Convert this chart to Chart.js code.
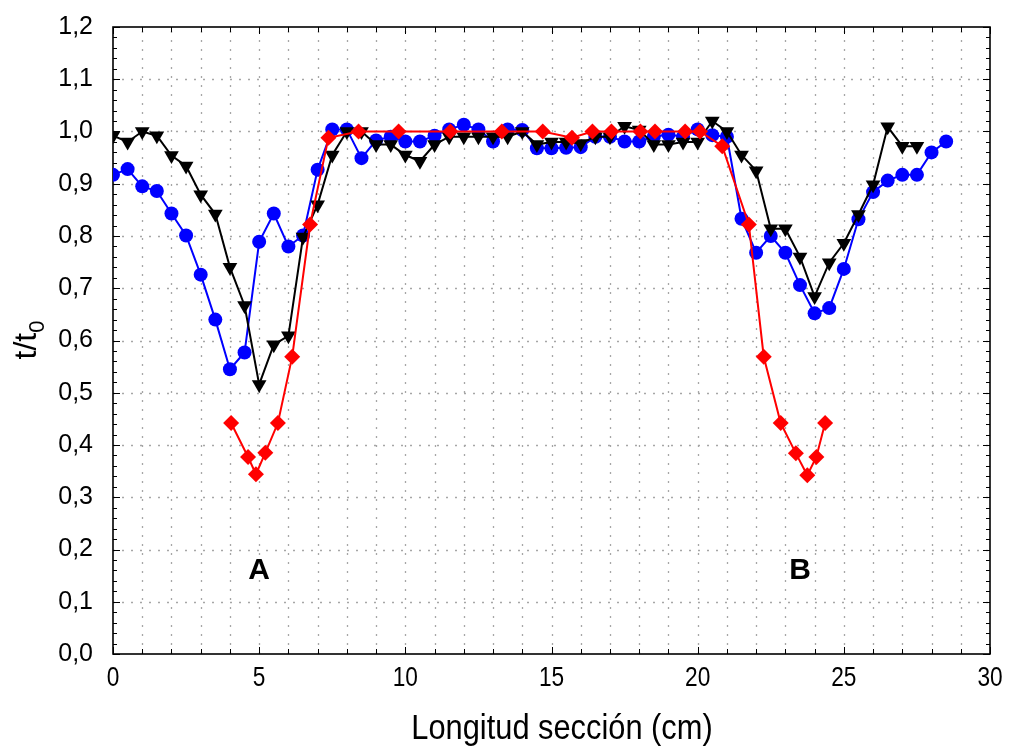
<!DOCTYPE html>
<html>
<head>
<meta charset="utf-8">
<script src="https://cdn.jsdelivr.net/npm/chart.js@4/dist/chart.umd.min.js"></script>
<style>
  html, body { margin: 0; padding: 0; background: #fff; }
  #wrap { width: 1009px; height: 747px; position: relative; }
</style>
</head>
<body>
<div id="wrap"><canvas id="c" width="1009" height="747"></canvas></div>
<script>
// Section length (cm) and relative thickness t/t0 for three profiles
const blackX = [0,0.5,1,1.5,2,2.5,3,3.5,4,4.5,5,5.5,6,6.5,7,7.5,8,8.5,9,9.5,10,10.5,11,11.5,12,12.5,13,13.5,14,14.5,15,15.5,16,16.5,17,17.5,18,18.5,19,19.5,20,20.5,21,21.5,22,22.5,23,23.5,24,24.5,25,25.5,26,26.5,27,27.5];
const blackY = [0.992,0.98,1.0,0.992,0.954,0.934,0.879,0.842,0.74,0.667,0.516,0.592,0.609,0.798,0.86,0.955,1.0,1.0,0.975,0.975,0.955,0.943,0.975,0.99,0.99,0.99,0.99,0.99,1.0,0.975,0.98,0.98,0.977,0.99,0.99,1.01,1.003,0.975,0.975,0.98,0.98,1.02,1.0,0.955,0.925,0.814,0.814,0.76,0.684,0.749,0.786,0.841,0.898,1.009,0.972,0.972];

const blueX = [0,0.5,1,1.5,2,2.5,3,3.5,4,4.5,5,5.5,6,6.5,7,7.5,8,8.5,9,9.5,10,10.5,11,11.5,12,12.5,13,13.5,14,14.5,15,15.5,16,16.5,17,17.5,18,18.5,19,19.5,20,20.5,21,21.5,22,22.5,23,23.5,24,24.5,25,25.5,26,26.5,27,27.5,28,28.5];
const blueY = [0.917,0.928,0.895,0.886,0.843,0.801,0.726,0.640,0.545,0.577,0.789,0.843,0.780,0.801,0.927,1.004,1.004,0.949,0.983,0.99,0.981,0.981,0.992,1.004,1.013,1.004,0.981,1.004,1.003,0.968,0.968,0.969,0.97,0.99,0.99,0.981,0.981,0.99,0.994,0.99,1.004,0.993,0.99,0.833,0.768,0.800,0.768,0.706,0.652,0.662,0.737,0.832,0.884,0.906,0.917,0.917,0.960,0.981];

const redX = [4.04,4.62,4.89,5.21,5.64,6.13,6.74,7.37,8.4,9.77,11.54,13.3,14.7,15.7,16.4,17.05,18.04,18.54,19.57,20.08,20.84,21.75,22.26,22.84,23.36,23.75,24.06,24.36];
const redY = [0.442,0.377,0.344,0.385,0.442,0.569,0.822,0.988,1.0,1.0,1.0,1.0,1.0,0.988,1.0,1.0,1.0,1.0,1.0,1.0,0.972,0.822,0.569,0.442,0.384,0.342,0.377,0.442];

// Labelled x ticks
const xTickValues = [0, 5, 10, 15, 20, 25, 30];

// Zone labels (x, y in data units)
const zoneLabels = ['A', 'B'];
const zoneX = [5.0, 23.5];
const zoneY = [0.16, 0.16];

const xTitle = 'Longitud sección (cm)';
const yTitleMain = 't/t';
const yTitleSub = '0';

const FONT = "'Liberation Sans', Arial, sans-serif";

function pts(xs, ys) { return xs.map((x, i) => ({ x: x, y: ys[i] })); }

// Draws text horizontally condensed around (cx, cy)
function condensedText(ctx, text, cx, cy, factor) {
  ctx.save();
  ctx.translate(cx, cy);
  ctx.scale(factor, 1);
  ctx.fillText(text, 0, 0);
  ctx.restore();
}

// Dotted grid, inward ticks, frame and text annotations
const framePlugin = {
  id: 'frame',
  beforeDatasetsDraw(chart) {
    const { ctx, chartArea: a, scales: { x, y } } = chart;
    ctx.save();
    ctx.strokeStyle = '#a6a6a6';
    ctx.lineWidth = 1.3;
    ctx.setLineDash([2, 7]);
    for (let v = 1; v < 30; v++) {
      const px = Math.round(x.getPixelForValue(v)) + 0.5;
      ctx.beginPath(); ctx.moveTo(px, a.bottom); ctx.lineTo(px, a.top); ctx.stroke();
    }
    for (let k = 1; k < 12; k++) {
      const py = Math.round(y.getPixelForValue(k / 10)) + 0.5;
      ctx.beginPath(); ctx.moveTo(a.left, py); ctx.lineTo(a.right, py); ctx.stroke();
    }
    ctx.setLineDash([]);
    ctx.strokeStyle = '#000';
    ctx.lineWidth = 1;
    // x ticks: every 1 cm, bottom and top, pointing inward
    for (let v = 0; v <= 30; v++) {
      const px = Math.round(x.getPixelForValue(v)) + 0.5;
      const len = v % 5 === 0 ? 7 : 5;
      ctx.beginPath(); ctx.moveTo(px, a.bottom); ctx.lineTo(px, a.bottom - len); ctx.stroke();
      ctx.beginPath(); ctx.moveTo(px, a.top); ctx.lineTo(px, a.top + len); ctx.stroke();
    }
    // y ticks: every 0.02, left and right, pointing inward
    for (let k = 0; k <= 60; k++) {
      const py = Math.round(y.getPixelForValue(k / 50)) + 0.5;
      const len = k % 5 === 0 ? 7 : 4;
      ctx.beginPath(); ctx.moveTo(a.left, py); ctx.lineTo(a.left + len, py); ctx.stroke();
      ctx.beginPath(); ctx.moveTo(a.right, py); ctx.lineTo(a.right - len, py); ctx.stroke();
    }
    // frame
    ctx.lineWidth = 1.6;
    ctx.strokeRect(a.left, a.top, a.right - a.left, a.bottom - a.top);
    ctx.restore();
  },
  afterDraw(chart) {
    const { ctx, chartArea: a, scales: { x, y } } = chart;
    ctx.save();
    ctx.fillStyle = '#000';
    ctx.textAlign = 'center';
    ctx.textBaseline = 'middle';
    // x tick labels
    ctx.font = '27px ' + FONT;
    xTickValues.forEach(v => {
      condensedText(ctx, String(v), x.getPixelForValue(v), a.bottom + 25, 0.84);
    });
    // zone labels
    ctx.font = 'bold 30px ' + FONT;
    zoneLabels.forEach((t, i) => {
      ctx.fillText(t, x.getPixelForValue(zoneX[i]), y.getPixelForValue(zoneY[i]));
    });
    // x title
    ctx.font = '35px ' + FONT;
    ctx.textBaseline = 'alphabetic';
    condensedText(ctx, xTitle, 562, 739, 0.88);
    // y title with subscript
    ctx.translate(36, 340);
    ctx.rotate(-Math.PI / 2);
    ctx.font = '32px ' + FONT;
    const w1 = ctx.measureText(yTitleMain).width;
    ctx.font = '22px ' + FONT;
    const w2 = ctx.measureText(yTitleSub).width;
    const start = -(w1 + w2) / 2;
    ctx.textAlign = 'left';
    ctx.font = '32px ' + FONT;
    ctx.fillText(yTitleMain, start, 0);
    ctx.font = '22px ' + FONT;
    ctx.fillText(yTitleSub, start + w1, 8);
    ctx.restore();
  }
};

new Chart(document.getElementById('c'), {
  type: 'scatter',
  data: {
    datasets: [
      {
        label: 'rojo',
        data: pts(redX, redY),
        showLine: true,
        borderColor: '#ff0000',
        backgroundColor: '#ff0000',
        borderWidth: 2,
        pointStyle: 'rectRot',
        pointRadius: 8,
        pointBorderWidth: 0,
        tension: 0
      },
      {
        label: 'negro',
        data: pts(blackX, blackY),
        showLine: true,
        borderColor: '#000000',
        backgroundColor: '#000000',
        borderWidth: 2,
        pointStyle: 'triangle',
        rotation: 180,
        pointRadius: 8.5,
        pointBorderWidth: 0,
        tension: 0
      },
      {
        label: 'azul',
        data: pts(blueX, blueY),
        showLine: true,
        borderColor: '#0000ff',
        backgroundColor: '#0000ff',
        borderWidth: 2,
        pointStyle: 'circle',
        pointRadius: 7,
        pointBorderWidth: 0,
        tension: 0
      }
    ]
  },
  options: {
    responsive: false,
    animation: false,
    events: [],
    layout: { padding: { left: 0, top: 23, right: 19, bottom: 0 } },
    plugins: { legend: { display: false }, tooltip: { enabled: false }, title: { display: false } },
    scales: {
      x: {
        type: 'linear',
        min: 0, max: 30,
        grid: { display: false },
        border: { display: false },
        afterFit(s) { s.height = 93; },
        ticks: { display: false, stepSize: 1 }
      },
      y: {
        type: 'linear',
        min: 0, max: 1.2,
        grid: { display: false },
        border: { display: false },
        afterFit(s) { s.width = 113; },
        ticks: {
          stepSize: 0.1,
          padding: 12,
          color: '#000',
          font: { family: FONT, size: 25 },
          callback: v => Number(v).toFixed(1).replace('.', ',')
        }
      }
    }
  },
  plugins: [framePlugin]
});
</script>
</body>
</html>
